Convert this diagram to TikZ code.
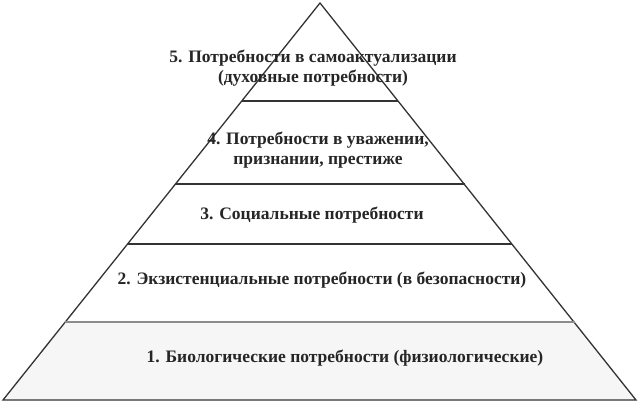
\documentclass[tikz,border=0pt]{standalone}
\usepackage{fontspec}
\setmainfont{Liberation Serif}
\begin{document}
\begin{tikzpicture}[x=1pt,y=-1pt,
  level/.style={font=\bfseries\fontsize{17.5}{20}\selectfont, align=center, inner sep=0pt, text=black!85}]
  \useasboundingbox (0,0) rectangle (638,408);
  \fill[white] (0,0) rectangle (638,408);
  \fill[gray!7] (65,322)--(575,322)--(636,400)--(3,400)--cycle; % lowest band
  \draw[black!80, line width=1.3pt] (320,3)--(636,400)--(3,400)--cycle; % pyramid
  \draw[black!80, line width=1.3pt] (242,101)--(398,101); % 5 / 4
  \draw[black!80, line width=1.3pt] (175,184)--(465,184); % 4 / 3
  \draw[black!80, line width=1.3pt] (128,244)--(512,244); % 3 / 2
  \draw[black!45, line width=1.3pt] (65,322)--(575,322); % 2 / 1

  \node[level] (lvl5) at (313,68) {5. Потребности в самоактуализации\\(духовные потребности)};
  \node[level] (lvl4) at (318,150) {4. Потребности в уважении,\\признании, престиже};
  \node[level] (lvl3) at (312,215) {3. Социальные потребности};
  \node[level] (lvl2) at (322,280) {2. Экзистенциальные потребности (в безопасности)};
  \node[level] (lvl1) at (345,358) {1. Биологические потребности (физиологические)};
\end{tikzpicture}
\end{document}
